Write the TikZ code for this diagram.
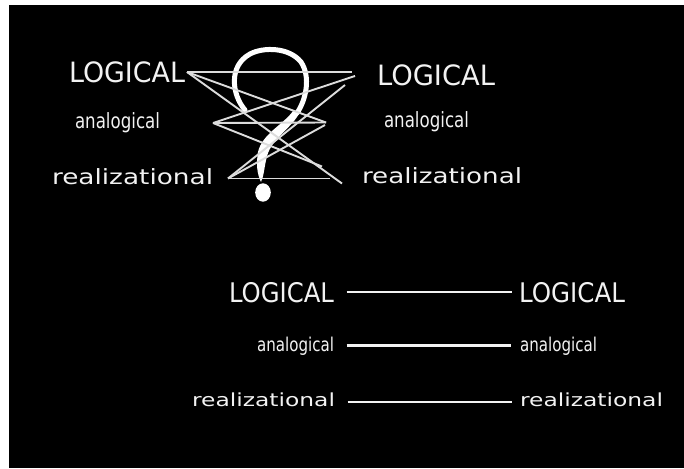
\documentclass[tikz,border=0pt]{standalone}
\usepackage{fontspec}
\setmainfont{DejaVu Sans}
\usepackage{graphicx}
\newcommand{\fitto}[2]{\resizebox{#1}{\height}{#2}}
\definecolor{txtc}{HTML}{F2F2F2}
\definecolor{linec}{HTML}{DCDCDC}
\begin{document}
\begin{tikzpicture}[x=1pt,y=-1pt,
  lbl/.style={inner sep=0pt, outer sep=0pt, text=txtc, anchor=base west},
  capsA/.style={lbl, font=\fontsize{28}{28}\selectfont},
  anaA/.style={lbl, font=\fontsize{21}{21}\selectfont},
  reaA/.style={lbl, font=\fontsize{21}{21}\selectfont},
  capsB/.style={lbl, font=\fontsize{27}{27}\selectfont},
  anaB/.style={lbl, font=\fontsize{19}{19}\selectfont},
  reaB/.style={lbl, font=\fontsize{18}{18}\selectfont},
  cross/.style={draw=linec, line width=1.9pt},
  rung/.style={draw=txtc, line width=2.4pt},
  qmark/.style={draw=white, line width=5pt, line cap=round},
]
\useasboundingbox (0,0) rectangle (684,468);
\fill[white] (0,0) rectangle (684,468);
\fill[black] (9,5) rectangle (684,468);

% top labels
\node[capsA] (tLL) at (69,83) {\fitto{116pt}{LOGICAL}};
\node[anaA]  (tLA) at (75,128) {\fitto{85pt}{analogical}};
\node[reaA]  (tLR) at (52,184) {\fitto{161pt}{realizational}};
\node[capsA] (tRL) at (377,85) {\fitto{118pt}{LOGICAL}};
\node[anaA]  (tRA) at (384,127) {\fitto{85pt}{analogical}};
\node[reaA]  (tRR) at (362,183.5) {\fitto{160pt}{realizational}};

% question mark
\draw[qmark] (245,110) .. controls (232,95) and (228,66) .. (250,54)
  .. controls (263,47) and (289,47) .. (301,62)
  .. controls (311,77) and (306,100) .. (297,113);
\fill[white] (300,112) .. controls (292,128) and (272,138) .. (267,156)
  .. controls (264,168) and (264,176) .. (261,182)
  .. controls (257,174) and (256,164) .. (258,152)
  .. controls (262,134) and (284,124) .. (293,111) -- cycle;
\fill[white] (263,192.5) ellipse [x radius=7.8, y radius=9.2];

% crossing lines
\coordinate (LL) at (187,72);
\coordinate (LA) at (213,123);
\coordinate (LR) at (228,178.5);
\coordinate (RL) at (352,72);
\coordinate (RL2) at (355,76);
\coordinate (RL3) at (345,85);
\coordinate (RA) at (326,122.5);
\coordinate (RA2) at (325,125);
\coordinate (RR) at (342,183.5);
\coordinate (RR2) at (322,166.5);
\coordinate (RRh) at (330,178.5);
\draw[cross] (LL) -- (RL);
\draw[cross] (LL) -- (RA);
\draw[cross] (LL) -- (RR);
\draw[cross] (LA) -- (RA);
\draw[cross] (LA) -- (RL2);
\draw[cross] (LA) -- (RR2);
\draw[cross] (LR) -- (RRh);
\draw[cross] (LR) -- (RL3);
\draw[cross] (LR) -- (RA2);

% bottom labels
\node[capsB] (bLL) at (229,302) {\fitto{105pt}{LOGICAL}};
\node[capsB] (bRL) at (519,302) {\fitto{106pt}{LOGICAL}};
\node[anaB]  (bLA) at (257,351.5) {\fitto{77pt}{analogical}};
\node[anaB]  (bRA) at (520,351.5) {\fitto{77pt}{analogical}};
\node[reaB]  (bLR) at (192,406.5) {\fitto{143pt}{realizational}};
\node[reaB]  (bRR) at (520,406.5) {\fitto{143pt}{realizational}};

\draw[rung, shorten <=12.5pt, shorten >=7.5pt] (bLL.east) -- (bRL.west);
\draw[rung, shorten <=12.5pt, shorten >=9.5pt] ([yshift=0.6pt]bLA.east) -- ([yshift=0.6pt]bRA.west);
\draw[rung, shorten <=12.5pt, shorten >=8pt] ([yshift=-2.2pt]bLR.east) -- ([yshift=-2.2pt]bRR.west);
\end{tikzpicture}
\end{document}
